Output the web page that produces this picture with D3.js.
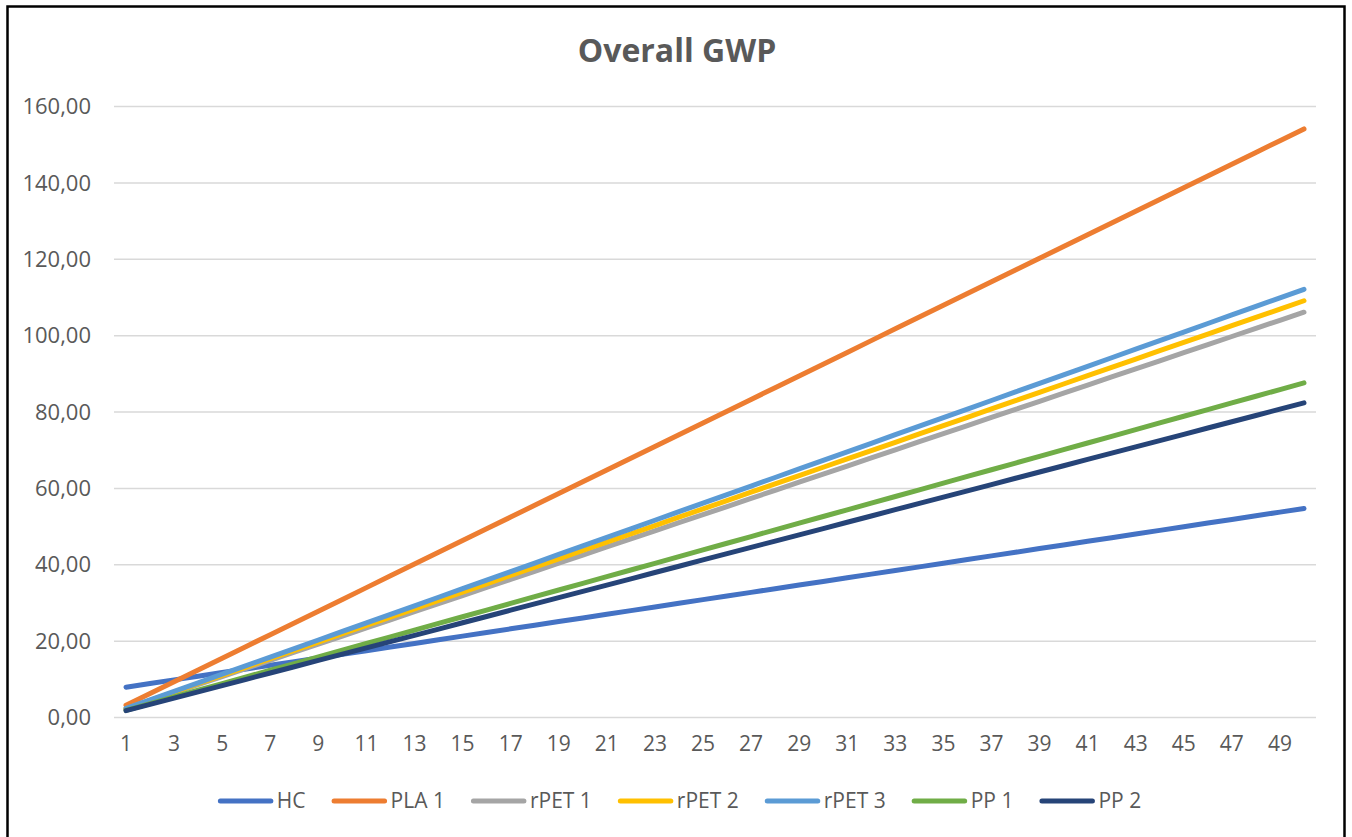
<!DOCTYPE html>
<html><head><meta charset="utf-8">
<script src="https://cdn.jsdelivr.net/npm/d3@7"></script>
<style>html,body{margin:0;padding:0;background:#fff;}svg{display:block;}</style>
</head><body>
<script>
const categories = d3.range(1, 51);
const yTicks = [0, 20, 40, 60, 80, 100, 120, 140, 160];
const xTickLabels = d3.range(1, 50, 2);
const seriesNames = ["HC", "PLA 1", "rPET 1", "rPET 2", "rPET 3", "PP 1", "PP 2"];
const seriesColors = ["#4472C4", "#ED7D31", "#A5A5A5", "#FFC000", "#5B9BD5", "#70AD47", "#264478"];

const HC = [7.81,8.76,9.72,10.67,11.63,12.58,13.54,14.49,15.45,16.40,17.36,18.31,19.27,20.22,21.18,22.13,23.09,24.04,25.00,25.95,26.91,27.86,28.82,29.77,30.73,31.68,32.64,33.59,34.55,35.50,36.46,37.41,38.37,39.32,40.28,41.23,42.19,43.14,44.10,45.05,46.01,46.96,47.92,48.87,49.83,50.78,51.74,52.69,53.65,54.60];
const PLA1 = [3.08,6.16,9.24,12.32,15.40,18.48,21.56,24.64,27.72,30.80,33.88,36.96,40.04,43.12,46.20,49.28,52.36,55.44,58.52,61.60,64.68,67.76,70.84,73.92,77.00,80.08,83.16,86.24,89.32,92.40,95.48,98.56,101.64,104.72,107.80,110.88,113.96,117.04,120.12,123.20,126.28,129.36,132.44,135.52,138.60,141.68,144.76,147.84,150.92,154.00];
const rPET1 = [2.12,4.24,6.36,8.48,10.60,12.72,14.84,16.96,19.08,21.20,23.32,25.44,27.56,29.68,31.80,33.92,36.04,38.16,40.28,42.40,44.52,46.64,48.76,50.88,53.00,55.12,57.24,59.36,61.48,63.60,65.72,67.84,69.96,72.08,74.20,76.32,78.44,80.56,82.68,84.80,86.92,89.04,91.16,93.28,95.40,97.52,99.64,101.76,103.88,106.00];
const rPET2 = [2.18,4.36,6.54,8.72,10.90,13.08,15.26,17.44,19.62,21.80,23.98,26.16,28.34,30.52,32.70,34.88,37.06,39.24,41.42,43.60,45.78,47.96,50.14,52.32,54.50,56.68,58.86,61.04,63.22,65.40,67.58,69.76,71.94,74.12,76.30,78.48,80.66,82.84,85.02,87.20,89.38,91.56,93.74,95.92,98.10,100.28,102.46,104.64,106.82,109.00];
const rPET3 = [2.24,4.48,6.72,8.96,11.20,13.44,15.68,17.92,20.16,22.40,24.64,26.88,29.12,31.36,33.60,35.84,38.08,40.32,42.56,44.80,47.04,49.28,51.52,53.76,56.00,58.24,60.48,62.72,64.96,67.20,69.44,71.68,73.92,76.16,78.40,80.64,82.88,85.12,87.36,89.60,91.84,94.08,96.32,98.56,100.80,103.04,105.28,107.52,109.76,112.00];
const PP1 = [1.75,3.50,5.25,7.00,8.75,10.50,12.25,14.00,15.75,17.50,19.25,21.00,22.75,24.50,26.25,28.00,29.75,31.50,33.25,35.00,36.75,38.50,40.25,42.00,43.75,45.50,47.25,49.00,50.75,52.50,54.25,56.00,57.75,59.50,61.25,63.00,64.75,66.50,68.25,70.00,71.75,73.50,75.25,77.00,78.75,80.50,82.25,84.00,85.75,87.50];
const PP2 = [1.65,3.29,4.94,6.58,8.23,9.87,11.52,13.16,14.81,16.45,18.10,19.74,21.39,23.03,24.68,26.32,27.97,29.61,31.26,32.90,34.55,36.19,37.84,39.48,41.13,42.77,44.42,46.06,47.71,49.35,51.00,52.64,54.29,55.93,57.58,59.22,60.87,62.51,64.16,65.80,67.45,69.09,70.74,72.38,74.03,75.67,77.32,78.96,80.61,82.25];
const seriesValues = [HC, PLA1, rPET1, rPET2, rPET3, PP1, PP2];

const W = 1352, H = 837;
const FONT = "'Open Sans', sans-serif";
const TXT = "#595959";
const plot = {left: 114, right: 1316, top: 106, bottom: 717};

const svg = d3.select("body").append("svg").attr("width", W).attr("height", H);
svg.append("rect").attr("width", W).attr("height", H).attr("fill", "#fff");
svg.append("rect").attr("x", 7.5).attr("y", 6.5).attr("width", 1337).attr("height", 850)
  .attr("fill", "none").attr("stroke", "#000").attr("stroke-width", 2.5);

svg.append("text").attr("x", 677).attr("y", 62).attr("text-anchor", "middle")
  .attr("font-family", FONT).attr("font-weight", "bold").attr("font-size", 32).attr("fill", TXT)
  .text("Overall GWP");

const x = d3.scaleBand().domain(categories).range([plot.left, plot.right]);
const y = d3.scaleLinear().domain([0, 160]).range([plot.bottom, plot.top]);

const yAxis = d3.axisLeft(y).tickValues(yTicks).tickSize(-(plot.right - plot.left))
  .tickFormat(d => d3.format(".2f")(d).replace(".", ","));
const gy = svg.append("g").attr("transform", `translate(${plot.left},0)`).call(yAxis);
gy.select(".domain").remove();
gy.selectAll("line").attr("stroke", "#D9D9D9").attr("stroke-width", 1.5);
gy.selectAll("text").attr("x", -23).attr("dy", "0.35em").attr("font-family", FONT)
  .attr("font-size", 22).attr("fill", TXT);

const xAxis = d3.axisBottom(x).tickValues(xTickLabels).tickSize(0).tickPadding(19);
const gx = svg.append("g").attr("transform", `translate(0,${plot.bottom})`).call(xAxis);
gx.select(".domain").remove();
gx.selectAll("text").attr("font-family", FONT).attr("font-size", 21).attr("fill", TXT);

const line = d3.line().x((d, i) => x(categories[i]) + x.bandwidth() / 2).y(d => y(d));
seriesValues.forEach((vals, k) => {
  svg.append("path").datum(vals).attr("d", line).attr("fill", "none")
    .attr("stroke", seriesColors[k]).attr("stroke-width", 5)
    .attr("stroke-linecap", "round").attr("stroke-linejoin", "round");
});

const lg = svg.append("g");
let lx = 0;
seriesNames.forEach((n, k) => {
  const g = lg.append("g").attr("transform", `translate(${lx},0)`);
  g.append("line").attr("x1", 2.5).attr("x2", 53).attr("y1", 0).attr("y2", 0)
    .attr("stroke", seriesColors[k]).attr("stroke-width", 5).attr("stroke-linecap", "round");
  const t = g.append("text").attr("x", 59).attr("y", 0).attr("dy", "0.35em")
    .attr("font-family", FONT).attr("font-size", 21).attr("fill", TXT).text(n);
  lx += 59 + t.node().getComputedTextLength() + 26;
});
const lw = lx - 26;
lg.attr("transform", `translate(${679.5 - lw / 2},801)`);
</script>
</body></html>
